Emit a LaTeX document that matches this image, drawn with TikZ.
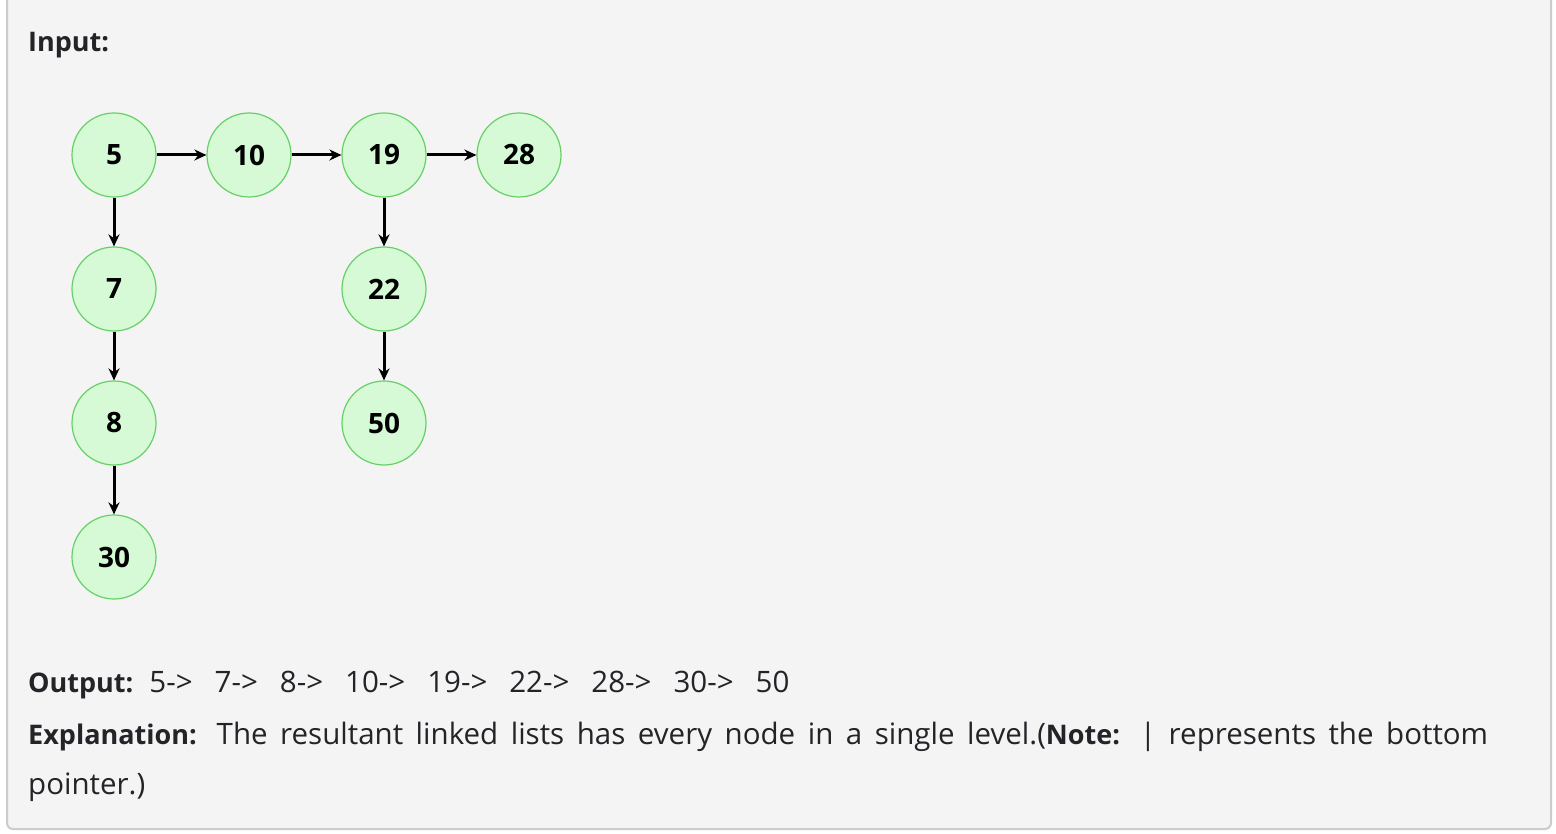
\documentclass[tikz,border=0pt]{standalone}
\usepackage{fontspec}
\setmainfont{Open Sans}
\usetikzlibrary{arrows.meta,positioning}
\definecolor{boxbg}{HTML}{F4F4F4}
\definecolor{boxline}{HTML}{CCCCCC}
\definecolor{nodefill}{HTML}{D5FAD5}
\definecolor{nodeline}{HTML}{66D066}
\definecolor{ink}{HTML}{222428}
\newcommand{\bolder}[1]{{\fontsize{27}{50}\selectfont\bfseries #1}}

\begin{document}
\begin{tikzpicture}[x=1pt, y=-1pt, on grid, node distance=134pt and 135pt,
    listnode/.style = {circle, minimum size=84pt, inner sep=0pt, draw=nodeline, line width=1.2pt, fill=nodefill, font=\fontsize{28}{32}\selectfont\bfseries, text=black},
    arrow/.style = {line width=3pt, -{Stealth[length=12pt,width=11pt]}, black},
    label/.style = {anchor=west, inner sep=0pt, text=ink, font=\fontsize{29.5}{50}\selectfont}
]
\useasboundingbox (0,0) rectangle (1556,834);
\filldraw[fill=boxbg, draw=boxline, line width=2pt, rounded corners=6pt] (7,-10) -- (7,829) -- (1551,829) -- (1551,-10);

% Heading
\node (input) [label] at (28,45) {\bolder{Input:}};

% Nodes
\node (n5) [listnode] at (114,155) {5};
\node (n10) [listnode, right=of n5] {10};
\node (n19) [listnode, right=of n10] {19};
\node (n28) [listnode, right=of n19] {28};
\node (n7) [listnode, below=of n5] {7};
\node (n8) [listnode, below=of n7] {8};
\node (n30) [listnode, below=of n8] {30};
\node (n22) [listnode, below=of n19] {22};
\node (n50) [listnode, below=of n22] {50};

% Edges
\draw [arrow] (n5) -- (n10);
\draw [arrow] (n10) -- (n19);
\draw [arrow] (n19) -- (n28);
\draw [arrow] (n5) -- (n7);
\draw [arrow] (n7) -- (n8);
\draw [arrow] (n8) -- (n30);
\draw [arrow] (n19) -- (n22);
\draw [arrow] (n22) -- (n50);

% Text below
\node (output) [label] at (28,685) {\bolder{Output:}\hspace{16pt}5->\hspace{22pt}7->\hspace{22pt}8->\hspace{22pt}10->\hspace{22pt}19->\hspace{22pt}22->\hspace{22pt}28->\hspace{22pt}30->\hspace{22pt}50};
\node (explain) [label, anchor=north west, text width=1460pt, align=justify] at (28,722) {\bolder{Explanation:} The resultant linked lists has every node in a single level.(\bolder{Note:} | represents the bottom\linebreak pointer.)};
\end{tikzpicture}
\end{document}
